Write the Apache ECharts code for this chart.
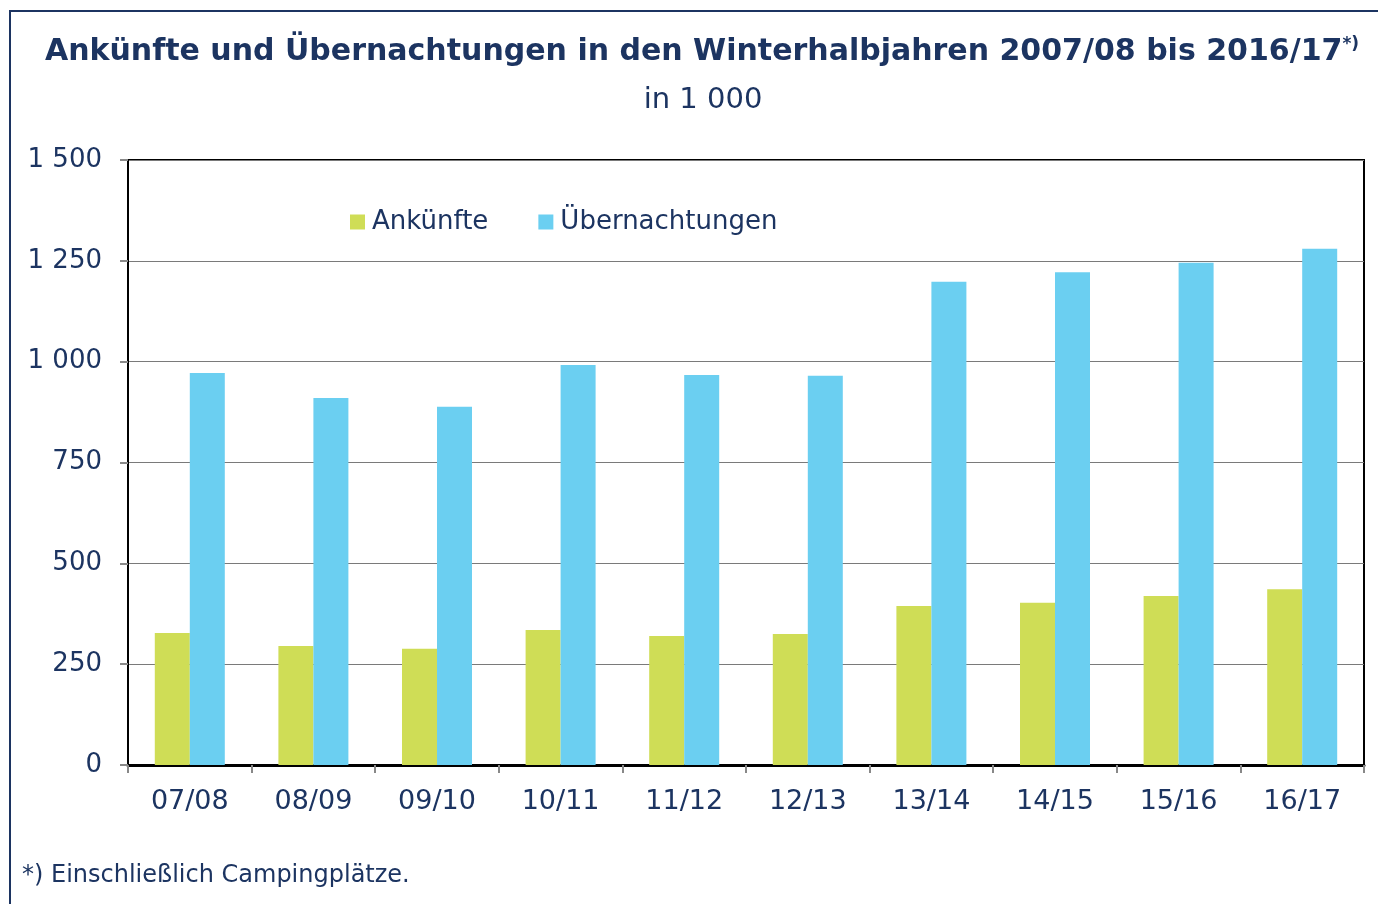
<!DOCTYPE html>
<html>
<head>
<meta charset="utf-8">
<script src="https://cdn.jsdelivr.net/npm/echarts@6/dist/echarts.min.js"></script>
<style>
html, body { margin: 0; padding: 0; background: #fff; }
#chart { width: 1378px; height: 904px; }
</style>
</head>
<body>
<div id="chart"></div>
<script>
// Winterhalbjahre
var categories = ['07/08', '08/09', '09/10', '10/11', '11/12', '12/13', '13/14', '14/15', '15/16', '16/17'];
var ankuenfte = [327, 295, 288, 335, 320, 325, 394, 402, 419, 436];
var uebernachtungen = [972, 910, 888, 992, 967, 965, 1198, 1222, 1245, 1280];
var yTicks = [0, 250, 500, 750, 1000, 1250, 1500];

var navy = '#1c3461';
var font = '"DejaVu Sans", Verdana, sans-serif';

var chart = echarts.init(document.getElementById('chart'));
var option = {
	backgroundColor: '#fff',
	color: ['#cfdd56', '#6bcff1'],
	textStyle: { fontFamily: font, color: navy },
	title: [{
		text: '{t|Ankünfte und Übernachtungen in den Winterhalbjahren 2007/08 bis 2016/17}{s|*)}',
		left: 697, top: 31, textAlign: 'center',
		textStyle: {
			rich: {
				t: { fontFamily: font, fontSize: 30, fontWeight: 'bold', color: navy },
				s: { fontFamily: font, fontSize: 17, fontWeight: 'bold', color: navy, verticalAlign: 'top', padding: [0, 0, 16, 0] }
			}
		}
	}, {
		text: 'in 1 000',
		left: 698, top: 81, textAlign: 'center',
		textStyle: { fontFamily: font, fontSize: 29, fontWeight: 'normal', color: navy }
	}, {
		text: '*) Einschließlich Campingplätze.',
		left: 17, top: 859,
		textStyle: { fontFamily: font, fontSize: 24, fontWeight: 'normal', color: navy }
	}],
	legend: {
		left: 345, top: 204,
		itemWidth: 15, itemHeight: 15, itemGap: 50,
		icon: 'rect',
		textStyle: { fontFamily: font, fontSize: 26, color: navy, padding: [0, 0, 0, 2] },
		data: ['Ankünfte', 'Übernachtungen']
	},
	grid: { left: 128, right: 14, top: 160, bottom: 139, show: true, borderColor: '#000', borderWidth: 2 },
	xAxis: {
		type: 'category',
		data: categories,
		axisLine: { lineStyle: { color: '#000', width: 3 } },
		axisTick: { show: true, length: 8, lineStyle: { color: '#888', width: 2 } },
		axisLabel: { fontFamily: font, fontSize: 27, color: navy, margin: 23 }
	},
	yAxis: {
		type: 'value',
		min: 0, max: 1500, interval: 250,
		axisLine: { show: true, lineStyle: { color: '#000', width: 2 } },
		axisTick: { show: true, length: 8, lineStyle: { color: '#888', width: 2 } },
		splitLine: { lineStyle: { color: '#7a7a7a', width: 1 } },
		axisLabel: {
			fontFamily: font, fontSize: 26, color: navy, margin: 26,
			formatter: function(v) {
				return yTicks.indexOf(v) >= 0 ? String(v).replace(/\B(?=(\d{3})+(?!\d))/g, ' ') : '';
			}
		}
	},
	series: [{
		name: 'Ankünfte',
		type: 'bar',
		data: ankuenfte,
		barWidth: 35,
		barGap: '0%'
	}, {
		name: 'Übernachtungen',
		type: 'bar',
		data: uebernachtungen,
		barWidth: 35,
		barGap: '0%'
	}],
	graphic: [{
		type: 'polyline',
		shape: { points: [[10, 904], [10, 11], [1378, 11]] },
		style: { stroke: navy, lineWidth: 2, fill: null },
		silent: true
	}]
};
chart.setOption(option);
</script>
</body>
</html>
